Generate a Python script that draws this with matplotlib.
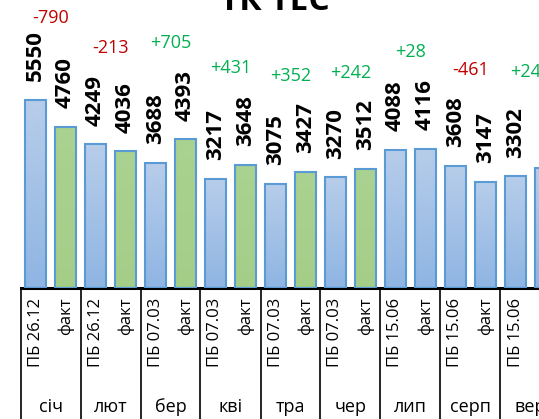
import matplotlib
matplotlib.use("Agg")
import matplotlib.pyplot as plt
import numpy as np
from matplotlib.colors import LinearSegmentedColormap

plt.rcParams['font.family'] = ['Open Sans', 'DejaVu Sans']

# дані
months = ['січ', 'лют', 'бер', 'кві', 'тра', 'чер', 'лип', 'серп', 'вер']
plan_labels = ['ПБ 26.12', 'ПБ 26.12', 'ПБ 07.03', 'ПБ 07.03', 'ПБ 07.03',
               'ПБ 07.03', 'ПБ 15.06', 'ПБ 15.06', 'ПБ 15.06']
fact_label = 'факт'
plan = [5550, 4249, 3688, 3217, 3075, 3270, 4088, 3608, 3302]
fact = [4760, 4036, 4393, 3648, 3427, 3512, 4116, 3147, 3547]
n_actual = 6  # місяці з фактичними даними (зелені стовпці)
title = 'ТК ТЕС'

W, H = 539, 419
fig = plt.figure(figsize=(W / 100, H / 100), dpi=100)

# осі: базова лінія на y=288 px, група = 60 px, початок таблиці x=20.5 px
left_px, base_px, group_px = 20.5, 288, 60
ax = fig.add_axes([left_px / W, (H - base_px) / H, (W - left_px) / W, base_px / H])
ymax = base_px / 0.03383
xmax = -0.5 + (W - left_px) / group_px

blue_cmap = LinearSegmentedColormap.from_list('b', ['#8FB5E3', '#B7CDEA'])
green_cmap = LinearSegmentedColormap.from_list('g', ['#A4CE88', '#AAD290'])
edge = '#5B9BD5'
bw = 0.35
grad = np.linspace(0, 1, 100).reshape(-1, 1)

x = np.arange(len(months))


def draw_bars(xs, vals, cmaps):
    bars = ax.bar(xs, vals, width=bw, facecolor='none', edgecolor=edge,
                  linewidth=1.5, zorder=3)
    for b, cm in zip(bars, cmaps):
        x0 = b.get_x()
        im = ax.imshow(grad, extent=[x0, x0 + bw, 0, b.get_height()],
                       origin='lower', aspect='auto', cmap=cm, zorder=2)
        im.set_clip_path(b)
    return bars


draw_bars(x - 0.25, plan, [blue_cmap] * len(plan))
fact_cmaps = [green_cmap if i < n_actual else blue_cmap for i in range(len(fact))]
draw_bars(x + 0.25, fact, fact_cmaps)

# підписи значень (ті, що за краєм рисунка, не показуємо)
for xs, vals in ((x - 0.25, plan), (x + 0.25, fact)):
    for xi, v in zip(xs, vals):
        if xi > xmax:
            continue
        ax.annotate(str(v), xy=(xi, v), xytext=(0, 13.5), textcoords='offset points',
                    rotation=90, ha='center', va='bottom', fontsize=16,
                    fontweight='bold', annotation_clip=False)

# відхилення факт - план
for i in range(len(months)):
    d = fact[i] - plan[i]
    y = min(max(plan[i], fact[i]) + 2850, 7970)
    ax.text(x[i], y, f'{d:+d}', ha='center', va='center', fontsize=13,
            color='#C00000' if d < 0 else '#00B050', clip_on=False)

ax.set_xlim(-0.5, xmax)
ax.set_ylim(0, ymax)
for s in ('left', 'right', 'top'):
    ax.spines[s].set_visible(False)
ax.spines['bottom'].set_linewidth(2.2)
ax.spines['bottom'].set_color('black')
ax.set_xticks([])
ax.set_yticks([])

# таблиця категорій під віссю
tr = ax.get_xaxis_transform()
for b in np.arange(-0.5, len(months) + 0.5, 1.0):
    ax.plot([b, b], [0, -0.6], color='black', lw=1.2, transform=tr, clip_on=False)
for i in range(len(months)):
    ax.annotate(plan_labels[i], xy=(x[i] - 0.25, 0), xycoords=tr, xytext=(0, -7),
                textcoords='offset points', rotation=90, ha='center', va='top',
                fontsize=12, annotation_clip=False)
    if x[i] + 0.25 <= xmax:
        ax.annotate(fact_label, xy=(x[i] + 0.25, 0), xycoords=tr, xytext=(0, -7),
                    textcoords='offset points', rotation=90, ha='center', va='top',
                    fontsize=12, annotation_clip=False)
    ax.annotate(months[i], xy=(x[i], 0), xycoords=tr, xytext=(0, -86),
                textcoords='offset points', ha='center', va='center',
                fontsize=13, annotation_clip=False)

fig.text(275 / W, (H - 10) / H, title, ha='center', va='baseline',
         fontsize=24, fontweight='bold')

fig.savefig('out.png', dpi=100)
